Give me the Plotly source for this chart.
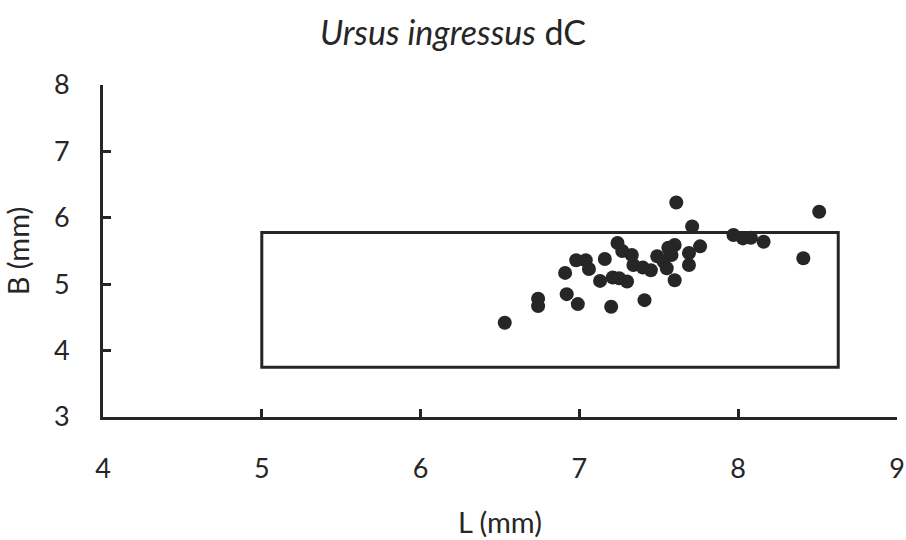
import plotly.graph_objects as go

# Lower fourth premolar measurements (length L, breadth B), Ursus ingressus
L_mm = [6.53, 6.74, 6.74, 6.91, 6.92, 6.98, 6.99, 7.04, 7.06, 7.13,
        7.16, 7.20, 7.21, 7.25, 7.24, 7.27, 7.30, 7.33, 7.34, 7.40,
        7.41, 7.45, 7.49, 7.53, 7.55, 7.56, 7.58, 7.60, 7.60, 7.61,
        7.69, 7.69, 7.71, 7.76, 7.97, 8.03, 8.08, 8.16, 8.41, 8.51, 7.57]
B_mm = [4.42, 4.78, 4.67, 5.17, 4.85, 5.36, 4.70, 5.36, 5.23, 5.05,
        5.38, 4.66, 5.10, 5.09, 5.62, 5.50, 5.04, 5.44, 5.29, 5.25,
        4.76, 5.21, 5.42, 5.34, 5.24, 5.55, 5.44, 5.59, 5.06, 6.23,
        5.47, 5.29, 5.87, 5.57, 5.74, 5.69, 5.70, 5.64, 5.39, 6.09, 5.50]

# Reference range box (L min/max, B min/max)
box_L = [5.0, 8.63]
box_B = [3.75, 5.78]

x_ticks = [4, 5, 6, 7, 8, 9]
y_ticks = [3, 4, 5, 6, 7, 8]

ink = "#262626"
font_family = "Lato, 'Open Sans', sans-serif"

fig = go.Figure()

fig.add_trace(go.Scatter(
    x=L_mm, y=B_mm, mode="markers",
    marker=dict(size=14, color=ink, line=dict(width=0)),
    showlegend=False, cliponaxis=False,
))

fig.add_shape(type="rect", xref="x", yref="y",
              x0=box_L[0], x1=box_L[1], y0=box_B[0], y1=box_B[1],
              line=dict(color=ink, width=3), fillcolor="rgba(0,0,0,0)",
              layer="below")

axis_common = dict(
    showline=True, linecolor=ink, linewidth=3,
    ticks="inside", ticklen=8, tickwidth=3, tickcolor=ink,
    showgrid=False, zeroline=False, mirror=False, automargin=False,
    tickfont=dict(family=font_family, size=27, color=ink),
)

fig.update_xaxes(range=[4, 9], tickvals=x_ticks, ticklabelstandoff=26,
                 title=dict(text="L (mm)", font=dict(family=font_family, size=29, color=ink),
                            standoff=30),
                 **axis_common)
fig.update_yaxes(range=[3, 8], tickvals=y_ticks, ticklabelstandoff=25,
                 title=dict(text="B (mm)", font=dict(family=font_family, size=29, color=ink),
                            standoff=20),
                 **axis_common)

fig.update_layout(
    width=906, height=540,
    margin=dict(l=103, r=9, t=85, b=123),
    paper_bgcolor="white", plot_bgcolor="white",
    title=dict(text="<i>Ursus ingressus</i> dC", x=0.5, xanchor="center",
               y=1 - 33 / 540, yanchor="middle",
               font=dict(family=font_family, size=34, color=ink)),
)

fig.write_html("out.html")
